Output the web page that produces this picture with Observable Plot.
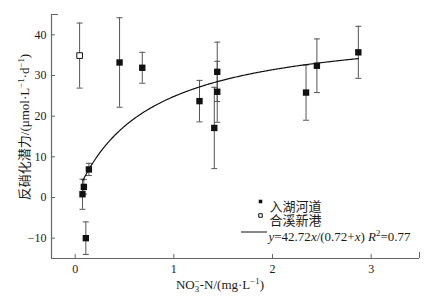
<!DOCTYPE html>
<html><head><meta charset="utf-8">
<script src="https://cdn.jsdelivr.net/npm/d3@7"></script>
<script src="https://cdn.jsdelivr.net/npm/@observablehq/plot@0.6"></script>
<style>body{margin:0;background:#fff} svg{display:block}</style>
</head><body><div id="chart"></div>
<script>
// ---- data ----
const riverX   = [0.074, 0.088, 0.108, 0.139, 0.45, 0.68, 1.26, 1.41, 1.44, 1.44, 2.34, 2.45, 2.87];
const riverY   = [0.8,   2.6,  -10.0,  6.9,  33.2, 31.9, 23.7, 17.1, 30.9, 26.0, 25.8, 32.4, 35.7];
const riverErr = [3.7,   1.8,   4.0,   1.5,  11.0,  3.8,  5.1, 10.0,  7.3,  7.5,  6.8,  6.6,  6.4];
const harborX   = [0.045];
const harborY   = [34.9];
const harborErr = [8.0];
const fitA = 42.72, fitK = 0.72, fitFrom = 0.08, fitTo = 2.87;
const xTicks = [0, 1, 2, 3];
const yTicks = [-10, 0, 10, 20, 30, 40];
const xDomain = [-0.24, 3.49];
const yDomain = [-15, 45];
const legendLabels = ["入湖河道", "合溪新港", "y=42.72x/(0.72+x) R2=0.77"];
const eqSegments = [["y","i"],["=42.72"],["x","i"],["/(0.72+"],["x","i"],[") "],["R","i"],["2","sup"],["=0.77"]];
const xLabelSegments = [["NO"],["3","sub"],["−","stack"],["-N/(mg·L"],["−1","sup"],[")"]];
const yLabelSegments = [["反硝化潜力/(μmol·L"],["−1","sup"],["·d"],["−1","sup"],[")"]];

// ---- build ----
const river = riverX.map((x, i) => ({x, y: riverY[i], e: riverErr[i]}));
const harbor = harborX.map((x, i) => ({x, y: harborY[i], e: harborErr[i]}));
const all = river.concat(harbor);
const fitXs = d3.range(fitFrom, fitTo, 0.01).concat([fitTo]);

const hbar = {draw(ctx, size) { const w = Math.sqrt(size / Math.PI); ctx.moveTo(-w, 0); ctx.lineTo(w, 0); }};
const axisColor = "#666";
const ink = "#1a1a1a";
const errColor = "#555";
const FONT = "'Liberation Serif','Noto Sans CJK SC',serif";

const plot = Plot.plot({
  width: 434, height: 300,
  marginLeft: 51, marginRight: 15, marginTop: 14, marginBottom: 42,
  style: {fontFamily: FONT, fontSize: "12px", color: ink, background: "#fff"},
  x: {domain: xDomain},
  y: {domain: yDomain},
  marks: [
    Plot.ruleX([xDomain[0]], {stroke: axisColor, strokeWidth: 1.2}),
    Plot.ruleY([yDomain[0]], {stroke: axisColor, strokeWidth: 1.2}),
    Plot.axisY(yTicks, {label: null, tickSize: -4, tickPadding: 9, stroke: axisColor, fill: ink, fontSize: 12}),
    Plot.axisX(xTicks, {label: null, tickSize: -4, tickPadding: 10, stroke: axisColor, fill: ink, fontSize: 12}),
    Plot.axisY([yDomain[1]], {label: null, tickSize: -7, tickFormat: () => "", stroke: axisColor}),
    Plot.axisX([xDomain[1]], {label: null, tickSize: -6, tickFormat: () => "", stroke: axisColor}),
    // error bars
    Plot.ruleX(all, {x: "x", y1: d => d.y - d.e, y2: d => d.y + d.e, stroke: errColor, strokeWidth: 1}),
    Plot.dot(all, {x: "x", y: d => d.y + d.e, symbol: hbar, r: 3, stroke: errColor, fill: "none", strokeWidth: 1}),
    Plot.dot(all, {x: "x", y: d => d.y - d.e, symbol: hbar, r: 3, stroke: errColor, fill: "none", strokeWidth: 1}),
    // fitted curve
    Plot.line(fitXs, {x: d => d, y: d => fitA * d / (fitK + d), stroke: "#111", strokeWidth: 1.2}),
    // points
    Plot.dot(river, {x: "x", y: "y", symbol: "square", r: 3.6, fill: "#111", stroke: "none"}),
    Plot.dot(harbor, {x: "x", y: "y", symbol: "square", r: 3.2, fill: "#fff", stroke: "#111", strokeWidth: 1}),
    // legend
    Plot.dot([0], {frameAnchor: "top-left", dx: 209, dy: 187, symbol: "square", r: 2, fill: "#111", stroke: "none"}),
    Plot.dot([0], {frameAnchor: "top-left", dx: 209, dy: 201, symbol: "square", r: 2, fill: "#fff", stroke: "#111", strokeWidth: 1}),
    Plot.dot([0], {frameAnchor: "top-left", dx: 202.5, dy: 217.5, symbol: hbar, r: 13, stroke: "#111", fill: "none", strokeWidth: 1}),
    Plot.text([legendLabels[0]], {frameAnchor: "top-left", dx: 218, dy: 187, text: d => d, textAnchor: "start", fontSize: 13, fill: ink}),
    Plot.text([legendLabels[1]], {frameAnchor: "top-left", dx: 218, dy: 201, text: d => d, textAnchor: "start", fontSize: 13, fill: ink}),
    Plot.text([legendLabels[2]], {frameAnchor: "top-left", dx: 217, dy: 217.5, text: d => d, textAnchor: "start", fontSize: 13, fill: ink})
  ]
});

const svg = d3.select(plot);

function rich(textSel, segs, fs) {
  textSel.text(null);
  let shift = 0;
  const small = fs * 0.68;
  segs.forEach(([t, kind]) => {
    const ts = textSel.append("tspan").text(t);
    let target = 0;
    if (kind === "i") ts.attr("font-style", "italic");
    if (kind === "sup") { target = -fs * 0.42; ts.attr("font-size", small); }
    if (kind === "sub") { target = fs * 0.25; ts.attr("font-size", small); }
    if (kind === "stack") { target = -fs * 0.38; ts.attr("font-size", small).attr("dx", -small * 0.5); }
    if (target !== shift) { ts.attr("dy", target - shift); shift = target; }
  });
}

// equation legend text with italics / superscript
svg.selectAll("text").filter(function () { return this.textContent === legendLabels[2]; })
  .each(function () { rich(d3.select(this), eqSegments, 13); });

// axis titles
const xl = svg.append("text").attr("x", 220).attr("y", 289).attr("text-anchor", "middle")
  .attr("font-size", 13).attr("fill", ink).attr("font-family", FONT);
rich(xl, xLabelSegments, 13);
const yl = svg.append("text").attr("transform", "translate(29,127) rotate(-90)").attr("text-anchor", "middle")
  .attr("font-size", 13).attr("fill", ink).attr("font-family", FONT);
rich(yl, yLabelSegments, 13);

document.getElementById("chart").appendChild(plot);
</script>
</body></html>
